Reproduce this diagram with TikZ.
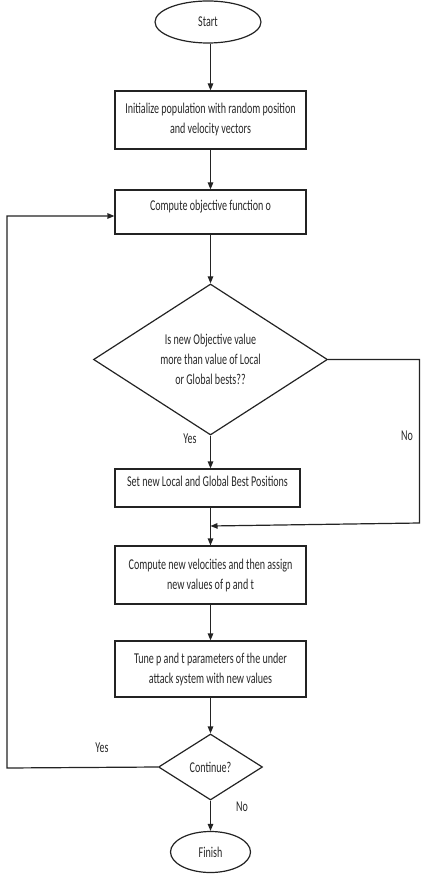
\documentclass[tikz,border=0pt]{standalone}
\usepackage{fontspec}
\setmainfont[FakeStretch=0.67]{Carlito}
\usepackage{tikz}
\usetikzlibrary{shapes.geometric, arrows.meta}
\definecolor{flowline}{RGB}{35, 35, 35}
\definecolor{flowtext}{RGB}{40, 40, 40}

\begin{document}
\begin{tikzpicture}[x=1pt, y=-1pt,
    >={Triangle[length=7pt, width=5.5pt]},
    every node/.style={font=\fontsize{15}{20}\selectfont, text=flowtext},
    flowbox/.style={draw=flowline, line width=1.2pt, rectangle, align=center, inner sep=0pt},
    onebox/.style={flowbox, text depth=14pt},
    decision/.style={draw=flowline, line width=1.2pt, diamond, align=center, inner sep=0pt},
    terminal/.style={draw=flowline, line width=1.2pt, ellipse, inner sep=0pt},
    flow/.style={draw=flowline, line width=1.2pt}]
    \useasboundingbox (0,0) rectangle (421,874);

    %% boxes
    \node[terminal, minimum width=106pt, minimum height=42pt] (start) at (208,22) {Start};
    \node[flowbox, minimum width=191pt, minimum height=58pt] (init) at (210.5,120)
      {Initialize population with random position\\and velocity vectors};
    \node[onebox, minimum width=191pt, minimum height=44pt] (obj) at (210.5,212)
      {Compute objective function o};
    \node[decision, minimum width=234pt, minimum height=132pt] (better) at (210.5,359.5)
      {Is new Objective value\\more than value of Local\\or Global bests??};
    \node[onebox, minimum width=185pt, minimum height=38pt] (best) at (207.5,488)
      {Set new Local and Global Best Positions};
    \node[flowbox, minimum width=191pt, minimum height=58pt] (vel) at (210.5,575)
      {Compute new velocities and then assign\\new values of p and t};
    \node[flowbox, minimum width=191pt, minimum height=56pt] (tune) at (210.5,669)
      {Tune p and t parameters of the under\\attack system with new values};
    \node[decision, minimum width=104pt, minimum height=66pt] (cont) at (210.5,767)
      {Continue?};
    \node[terminal, minimum width=80pt, minimum height=41pt] (finish) at (210.5,852)
      {Finish};

    %% branch labels
    \node (yesbest) at (190,439) {Yes};
    \node (nobest) at (407,436) {No};
    \node (yesloop) at (102,748) {Yes};
    \node (noend) at (242,807) {No};

    %% connectors
    \coordinate (nocorner) at (419.5,523);
    \coordinate (merge) at (210.5,526);
    \coordinate (loopcorner) at (7,768);
    \draw[flow, ->] (start.south -| init.north) -- (init);
    \draw[flow, ->] (init) -- (obj);
    \draw[flow, ->] (obj) -- (better);
    \draw[flow, ->] (better.south) -- (better.south |- best.north);
    \draw[flow] (best.south -| vel.north) -- (vel.north);
    \draw[flow, ->] (better.east) -| (nocorner) -- (merge);
    \draw[flow, ->] (merge) -- (vel);
    \draw[flow, ->] (vel) -- (tune);
    \draw[flow, ->] (tune) -- (cont);
    \draw[flow, ->] (cont) -- (finish);
    \draw[flow, ->] (cont.west) -- (loopcorner) |- ([yshift=-4pt]obj.west);
\end{tikzpicture}
\end{document}
